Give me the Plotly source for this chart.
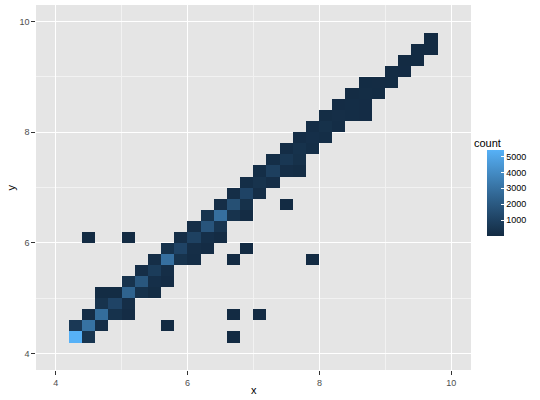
import numpy as np
import plotly.graph_objects as go

# ---- data: bin centres (binwidth 0.2) and counts ----
bin_x = [4.3, 4.5, 6.7,
         4.3, 4.5, 4.7, 5.7,
         4.5, 4.7, 4.9, 5.1, 6.7, 7.1,
         4.7, 4.9, 5.1,
         4.7, 4.9, 5.1, 5.3, 5.5,
         5.1, 5.3, 5.5, 5.7,
         5.3, 5.5, 5.7,
         5.5, 5.7, 5.9, 6.1, 6.7, 7.9,
         5.7, 5.9, 6.1, 6.3, 6.9,
         4.5, 5.1, 5.9, 6.1, 6.3, 6.5,
         6.1, 6.3, 6.5,
         6.3, 6.5, 6.7, 6.9,
         6.5, 6.7, 6.9, 7.5,
         6.7, 6.9, 7.1,
         6.9, 7.1, 7.3,
         7.1, 7.3, 7.5, 7.7,
         7.3, 7.5, 7.7,
         7.5, 7.7, 7.9,
         7.7, 7.9, 8.1,
         7.9, 8.1, 8.3,
         8.1, 8.3, 8.5, 8.7,
         8.3, 8.5, 8.7,
         8.5, 8.7, 8.9,
         8.7, 8.9, 9.1,
         9.1, 9.3,
         9.3, 9.5,
         9.5, 9.7,
         9.7]
bin_y = [4.3, 4.3, 4.3,
         4.5, 4.5, 4.5, 4.5,
         4.7, 4.7, 4.7, 4.7, 4.7, 4.7,
         4.9, 4.9, 4.9,
         5.1, 5.1, 5.1, 5.1, 5.1,
         5.3, 5.3, 5.3, 5.3,
         5.5, 5.5, 5.5,
         5.7, 5.7, 5.7, 5.7, 5.7, 5.7,
         5.9, 5.9, 5.9, 5.9, 5.9,
         6.1, 6.1, 6.1, 6.1, 6.1, 6.1,
         6.3, 6.3, 6.3,
         6.5, 6.5, 6.5, 6.5,
         6.7, 6.7, 6.7, 6.7,
         6.9, 6.9, 6.9,
         7.1, 7.1, 7.1,
         7.3, 7.3, 7.3, 7.3,
         7.5, 7.5, 7.5,
         7.7, 7.7, 7.7,
         7.9, 7.9, 7.9,
         8.1, 8.1, 8.1,
         8.3, 8.3, 8.3, 8.3,
         8.5, 8.5, 8.5,
         8.7, 8.7, 8.7,
         8.9, 8.9, 8.9,
         9.1, 9.1,
         9.3, 9.3,
         9.5, 9.5,
         9.7]
bin_count = [5400, 450, 1,
             600, 3000, 150, 1,
             150, 2800, 300, 60, 1, 1,
             350, 1100, 150,
             30, 40, 2400, 300, 80,
             350, 1900, 200, 60,
             150, 750, 150,
             150, 2900, 350, 100, 1, 1,
             300, 1100, 150, 60, 1,
             1, 1, 150, 1000, 200, 50,
             150, 1800, 450,
             400, 2900, 350, 50,
             150, 1600, 250, 1,
             150, 1100, 150,
             120, 350, 150,
             120, 900, 150, 80,
             120, 550, 250,
             100, 300, 120,
             100, 200, 120,
             100, 250, 100,
             80, 150, 100, 60,
             60, 100, 60,
             50, 80, 40,
             40, 50, 30,
             25, 20,
             15, 10,
             6, 5,
             3]
color_ticks = [1000, 2000, 3000, 4000, 5000]

# ---- build full grid (empty bins = None) ----
centers = [round(4.1 + 0.2 * k, 1) for k in range(30)]
z = [[None] * 30 for _ in range(30)]
for xv, yv, c in zip(bin_x, bin_y, bin_count):
    i = int(round((xv - 4.1) / 0.2))
    j = int(round((yv - 4.1) / 0.2))
    z[j][i] = c


# ---- ggplot-style gradient (#132B43 -> #56B1F7) interpolated in Lab ----
def _hex_to_rgb(h):
    h = h.lstrip("#")
    return [int(h[k:k + 2], 16) / 255 for k in (0, 2, 4)]


def _to_lin(c):
    return c / 12.92 if c <= 0.04045 else ((c + 0.055) / 1.055) ** 2.4


def _from_lin(c):
    v = 12.92 * c if c <= 0.0031308 else 1.055 * c ** (1 / 2.4) - 0.055
    return min(max(v, 0), 1)


_M = np.array([[0.4124, 0.3576, 0.1805], [0.2126, 0.7152, 0.0722], [0.0193, 0.1192, 0.9505]])
_WN = np.array([0.95047, 1.0, 1.08883])


def _f(t):
    return t ** (1 / 3) if t > 0.008856 else 7.787 * t + 16 / 116


def _finv(t):
    return t ** 3 if t ** 3 > 0.008856 else (t - 16 / 116) / 7.787


def _lab(h):
    rgb = np.array([_to_lin(c) for c in _hex_to_rgb(h)])
    xyz = _M @ rgb / _WN
    fx, fy, fz = [_f(t) for t in xyz]
    return np.array([116 * fy - 16, 500 * (fx - fy), 200 * (fy - fz)])


def _lab_to_hex(lab):
    L_, a, b = lab
    fy = (L_ + 16) / 116
    fx = fy + a / 500
    fz = fy - b / 200
    xyz = np.array([_finv(fx), _finv(fy), _finv(fz)]) * _WN
    rgb = np.linalg.solve(_M, xyz)
    r, g, bb = [int(round(_from_lin(c) * 255)) for c in rgb]
    return f"rgb({r},{g},{bb})"


lo, hi = _lab("#132B43"), _lab("#56B1F7")
colorscale = [[k / 10, _lab_to_hex(lo + (hi - lo) * k / 10)] for k in range(11)]

font_family = "Liberation Sans, Arial, sans-serif"

# plot area in pixels
L, R, T, B = 36, 471, 5, 370
W, H = 540, 400

fig = go.Figure(
    go.Heatmap(
        x=centers, y=centers, z=z,
        colorscale=colorscale, zmin=1, zmax=5400,
        hoverongaps=False,
        colorbar=dict(
            xref="container", x=487 / W, xanchor="left",
            yref="container", y=1 - 164.5 / H, yanchor="top",
            thickness=17, thicknessmode="pixels",
            len=86, lenmode="pixels",
            outlinewidth=0,
            tickmode="array", tickvals=color_ticks,
            ticks="inside", ticklen=3, tickcolor="white", tickwidth=1,
            tickfont=dict(size=9, color="#000000", family=font_family),
            xpad=0, ypad=0,
        ),
    )
)


def _px_to_paper(px, py):
    return (px - L) / (R - L), 1 - (py - T) / (B - T)


for txt, (px, py), ang, xa in [("count", (472, 143), 0, "left"),
                              ("x", (253.5, 390), 0, "center"),
                              ("y", (10, 187.5), -90, "center")]:
    ax, ay = _px_to_paper(px, py)
    fig.add_annotation(text=txt, xref="paper", yref="paper", x=ax, y=ay,
                       xanchor=xa, yanchor="middle", showarrow=False, textangle=ang,
                       font=dict(size=11, color="#000000", family=font_family))

axis_common = dict(
    range=[3.7, 10.3], tick0=4, dtick=2, tickmode="linear",
    ticks="outside", ticklen=3.7, tickwidth=1, tickcolor="#333333",
    tickfont=dict(size=9, color="#4D4D4D", family=font_family),
    showgrid=True, gridcolor="#FFFFFF", gridwidth=1.1,
    minor=dict(dtick=1, tick0=4, showgrid=True, gridcolor="#F2F2F2", gridwidth=0.55, ticks=""),
    zeroline=False, showline=False, automargin=False,
)

fig.update_layout(
    width=W, height=H,
    margin=dict(l=L, r=W - R, t=T, b=H - B, autoexpand=False),
    paper_bgcolor="#FFFFFF", plot_bgcolor="#E5E5E5",
    font=dict(family=font_family),
    xaxis=dict(axis_common),
    yaxis=dict(axis_common),
)

fig.write_html("out.html", config={"displayModeBar": False},
               post_script="document.body.style.margin='0';document.body.style.padding='0';")
